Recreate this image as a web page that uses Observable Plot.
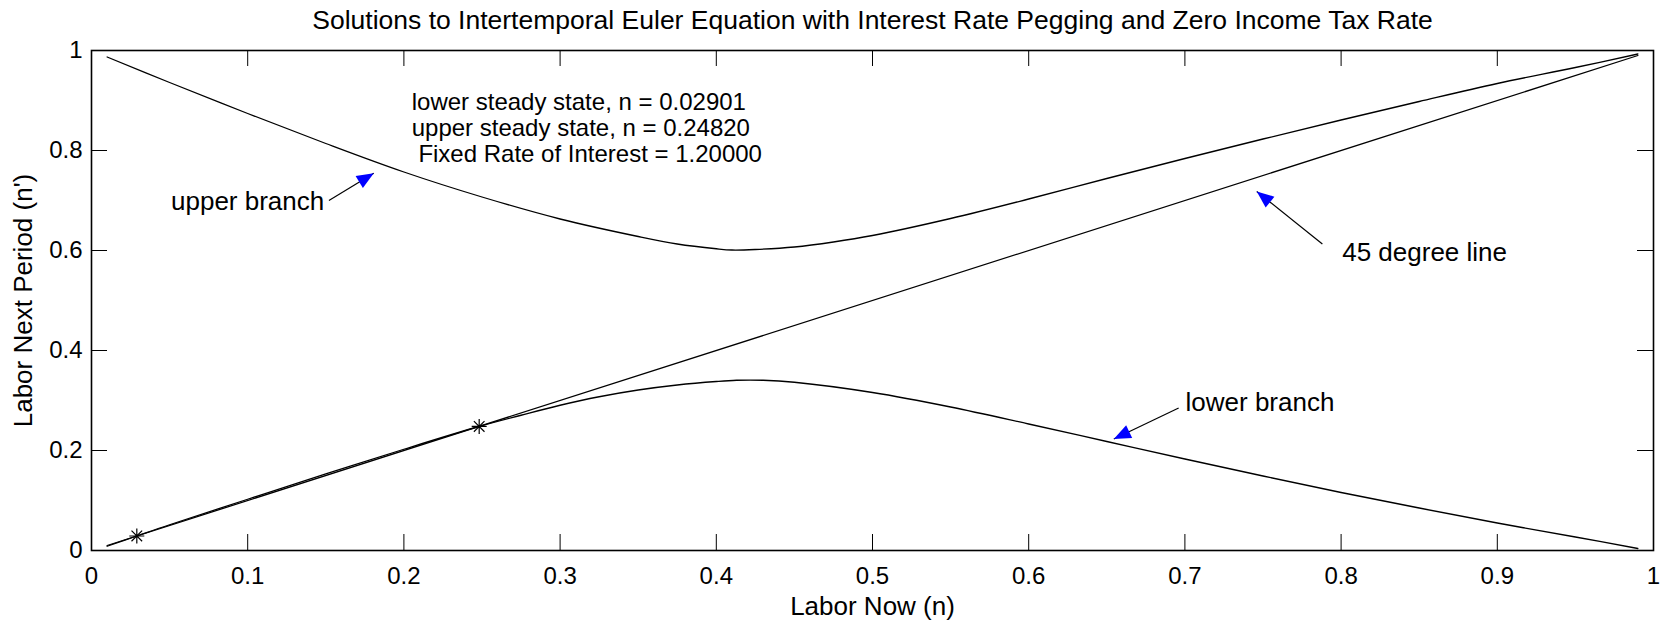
<!DOCTYPE html>
<html>
<head>
<meta charset="utf-8">
<script src="https://cdn.jsdelivr.net/npm/d3@7"></script>
<script src="https://cdn.jsdelivr.net/npm/@observablehq/plot@0.6"></script>
<style>
  html, body { margin: 0; padding: 0; background: #fff; }
  svg { display: block; }
</style>
</head>
<body>
<div id="chart"></div>
<script>
// ---------- data ----------
const titleText = "Solutions to Intertemporal Euler Equation with Interest Rate Pegging and Zero Income Tax Rate";
const xLabel = "Labor Now (n)";
const yLabel = "Labor Next Period (n')";

const xTicks = [0, 0.1, 0.2, 0.3, 0.4, 0.5, 0.6, 0.7, 0.8, 0.9, 1];
const yTicks = [0, 0.2, 0.4, 0.6, 0.8, 1];

const upperN = [0.01, 0.05, 0.1, 0.15, 0.2, 0.25, 0.3, 0.35, 0.375, 0.4, 0.41, 0.425, 0.45, 0.475, 0.5, 0.55, 0.6, 0.65, 0.7, 0.75, 0.8, 0.85, 0.9, 0.95, 0.99];
const upperV = [0.987, 0.936, 0.874, 0.814, 0.757, 0.707, 0.663, 0.628, 0.613, 0.6035, 0.601, 0.602, 0.607, 0.617, 0.630, 0.664, 0.703, 0.744, 0.784, 0.823, 0.861, 0.898, 0.934, 0.966, 0.993];

const lowerN = [0.01, 0.029, 0.05, 0.1, 0.15, 0.2, 0.248, 0.275, 0.3, 0.325, 0.35, 0.375, 0.4, 0.413, 0.43, 0.45, 0.5, 0.55, 0.6, 0.65, 0.7, 0.75, 0.8, 0.85, 0.9, 0.95, 0.99];
const lowerV = [0.0085, 0.029, 0.0515, 0.1025, 0.1532, 0.2025, 0.248, 0.2705, 0.2905, 0.3075, 0.321, 0.331, 0.338, 0.3405, 0.3405, 0.3365, 0.316, 0.287, 0.253, 0.218, 0.183, 0.149, 0.116, 0.085, 0.055, 0.027, 0.004];

const diagN = [0.01, 0.99];
const diagV = [0.01, 0.99];

const steadyN = [0.02901, 0.24820];
const steadyV = [0.02901, 0.24820];

const infoLines = "lower steady state, n = 0.02901\nupper steady state, n = 0.24820\n\u00a0Fixed Rate of Interest = 1.20000";

const arrowLabels = ["upper branch", "45 degree line", "lower branch"];
const arrowTailN = [0.152, 0.788, 0.696];
const arrowTailV = [0.700, 0.613, 0.285];
const arrowTipN  = [0.1807, 0.746, 0.6545];
const arrowTipV  = [0.7547, 0.718, 0.223];
const labelN     = [0.149, 0.8007, 0.7004];
const labelV     = [0.698, 0.5966, 0.2966];
const labelAnchor = ["end", "start", "start"];

// ---------- layout ----------
const width = 1671, height = 626;
const mL = 91, mR = 18, mT = 50, mB = 76;
const W = width - mL - mR, H = height - mT - mB;
const font = "'Liberation Sans', Arial, Helvetica, sans-serif";

const upper = upperN.map((n, i) => ({n, v: upperV[i]}));
const lower = lowerN.map((n, i) => ({n, v: lowerV[i]}));
const diag = diagN.map((n, i) => ({n, v: diagV[i]}));
const steady = steadyN.map((n, i) => ({n, v: steadyV[i]}));
const arrows = arrowLabels.map((label, i) => ({
  label, tn: arrowTailN[i], tv: arrowTailV[i], hn: arrowTipN[i], hv: arrowTipV[i],
  ln: labelN[i], lv: labelV[i], anchor: labelAnchor[i],
  angle: Math.atan2(-(arrowTipV[i] - arrowTailV[i]) * H, (arrowTipN[i] - arrowTailN[i]) * W) * 180 / Math.PI
}));

const matlabStar = {
  draw(ctx, size) {
    const r = Math.sqrt(size / Math.PI), d = r * Math.SQRT1_2;
    ctx.moveTo(0, -r); ctx.lineTo(0, r);
    ctx.moveTo(-r, 0); ctx.lineTo(r, 0);
    ctx.moveTo(-d, -d); ctx.lineTo(d, d);
    ctx.moveTo(-d, d); ctx.lineTo(d, -d);
  }
};
const arrowHead = {
  draw(ctx) {
    ctx.moveTo(0, 0); ctx.lineTo(-17, -7); ctx.lineTo(-17, 7); ctx.closePath();
  }
};

const plot = Plot.plot({
  width, height,
  marginLeft: mL, marginRight: mR, marginTop: mT, marginBottom: mB,
  style: {fontFamily: font, fontSize: "24px", background: "#fff", color: "black", overflow: "visible"},
  x: {domain: [0, 1]},
  y: {domain: [0, 1]},
  marks: [
    Plot.tickX(xTicks, {x: d => d, insetTop: H - 16, stroke: "black", strokeWidth: 1}),
    Plot.tickX(xTicks, {x: d => d, insetBottom: H - 16, stroke: "black", strokeWidth: 1}),
    Plot.tickY(yTicks, {y: d => d, insetRight: W - 16, stroke: "black", strokeWidth: 1}),
    Plot.tickY(yTicks, {y: d => d, insetLeft: W - 16, stroke: "black", strokeWidth: 1}),
    Plot.axisX({ticks: xTicks, tickSize: 0, tickPadding: 16, tickFormat: d => String(d), label: null, fontSize: 24}),
    Plot.axisY({ticks: yTicks, tickSize: 0, tickPadding: 9, tickFormat: d => String(d), label: null, fontSize: 24}),
    Plot.line(diag, {x: "n", y: "v", stroke: "black", strokeWidth: 1.3}),
    Plot.line(upper, {x: "n", y: "v", stroke: "black", strokeWidth: 1.3, curve: "catmull-rom"}),
    Plot.line(lower, {x: "n", y: "v", stroke: "black", strokeWidth: 1.3, curve: "catmull-rom"}),
    Plot.dot(steady, {x: "n", y: "v", symbol: matlabStar, r: 7.5, fill: "none", stroke: "black", strokeWidth: 1.2}),
    Plot.link(arrows, {x1: "tn", y1: "tv", x2: "hn", y2: "hv", stroke: "black", strokeWidth: 1.2}),
    Plot.dot(arrows, {x: "hn", y: "hv", symbol: arrowHead, r: 5, rotate: "angle", fill: "blue", stroke: "none"}),
    Plot.text(arrows.filter(d => d.anchor === "end"), {x: "ln", y: "lv", text: "label", textAnchor: "end", lineAnchor: "middle", fontSize: 26, fill: "black"}),
    Plot.text(arrows.filter(d => d.anchor === "start"), {x: "ln", y: "lv", text: "label", textAnchor: "start", lineAnchor: "middle", fontSize: 26, fill: "black"}),
    Plot.text([infoLines], {x: 0.205, y: 0.846, text: d => d, textAnchor: "start", lineAnchor: "middle", lineHeight: 1.1, fontSize: 24, fill: "black"}),
    Plot.text([titleText], {frameAnchor: "top", dy: -30, text: d => d, textAnchor: "middle", lineAnchor: "middle", fontSize: 26.5, fill: "black"}),
    Plot.text([xLabel], {frameAnchor: "bottom", dy: 56.5, text: d => d, textAnchor: "middle", lineAnchor: "middle", fontSize: 26, fill: "black"}),
    Plot.text([yLabel], {frameAnchor: "left", dx: -67.5, rotate: -90, text: d => d, textAnchor: "middle", lineAnchor: "middle", fontSize: 26, fill: "black"}),
    Plot.frame({stroke: "black", strokeWidth: 1.6})
  ]
});
document.getElementById("chart").appendChild(plot);
</script>
</body>
</html>
